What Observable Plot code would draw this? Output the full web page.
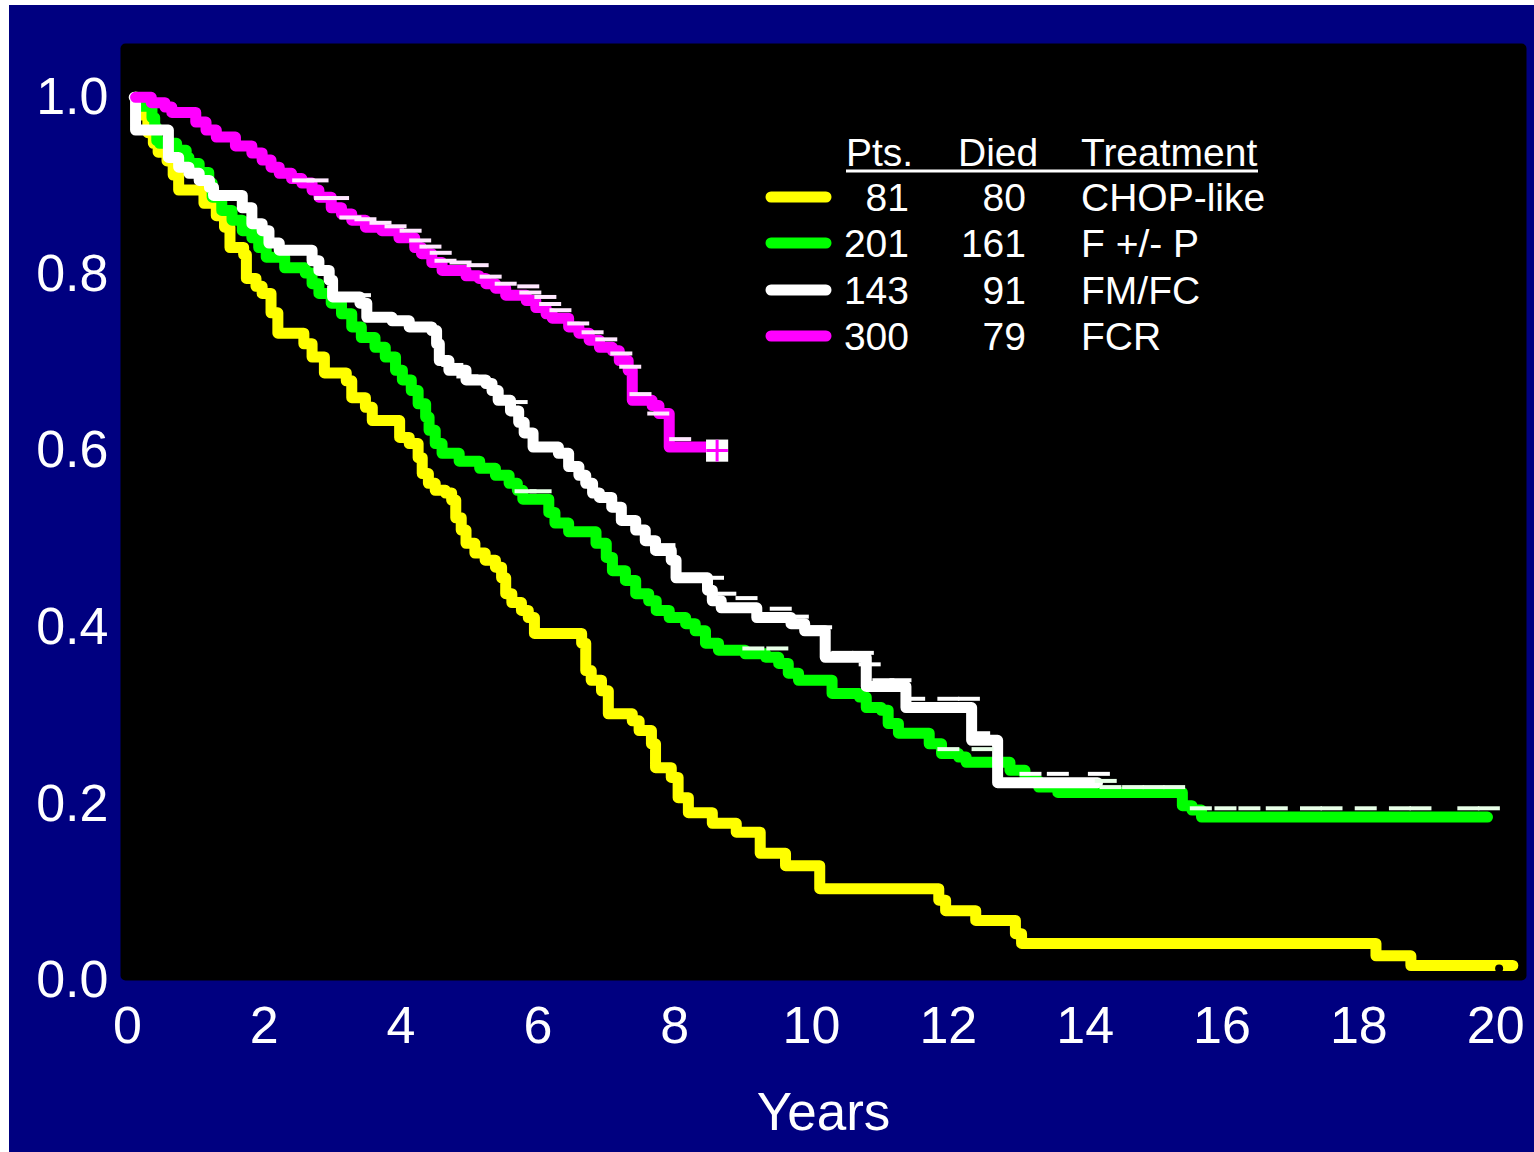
<!DOCTYPE html>
<html>
<head>
<meta charset="utf-8">
<script src="https://cdn.jsdelivr.net/npm/d3@7"></script>
<script src="https://cdn.jsdelivr.net/npm/@observablehq/plot@0.6"></script>
<style>
  html, body { margin: 0; padding: 0; background: #ffffff; }
  #chart { position: absolute; left: 9px; top: 5px; }
</style>
</head>
<body>
<div id="chart"></div>
<script>
// ---- Data ----
const xTicks = [0, 2, 4, 6, 8, 10, 12, 14, 16, 18, 20];
const yTicks = [0, 0.2, 0.4, 0.6, 0.8, 1.0];

const treatments = ["CHOP-like", "F +/- P", "FM/FC", "FCR"];
const patients = [81, 201, 143, 300];
const died = [80, 161, 91, 79];
const colors = ["#ffff00", "#00ff00", "#ffffff", "#ff00ff"];

// CHOP-like
const chopT = [0.12,0.14,0.3,0.38,0.45,0.58,0.67,0.75,1.12,1.3,1.42,1.5,1.7,1.74,1.88,1.97,2.1,2.2,2.58,2.7,2.88,3.2,3.28,3.48,3.58,3.98,4.12,4.25,4.31,4.4,4.5,4.65,4.74,4.8,4.88,4.95,5.08,5.23,5.38,5.47,5.53,5.62,5.76,5.86,5.95,6.64,6.7,6.78,6.93,7.03,7.38,7.48,7.66,7.72,7.95,8.05,8.2,8.55,8.9,9.25,9.62,10.12,11.86,11.96,12.4,12.98,13.07,18.25,18.76,20.25];
const chopS = [1.0,0.98,0.96,0.948,0.938,0.928,0.912,0.895,0.88,0.866,0.853,0.83,0.822,0.795,0.786,0.778,0.756,0.733,0.721,0.706,0.688,0.679,0.66,0.649,0.634,0.615,0.608,0.592,0.574,0.563,0.555,0.552,0.544,0.524,0.51,0.495,0.484,0.476,0.468,0.456,0.438,0.428,0.419,0.411,0.393,0.382,0.351,0.34,0.328,0.302,0.294,0.283,0.268,0.241,0.23,0.207,0.19,0.178,0.168,0.144,0.13,0.104,0.091,0.079,0.068,0.053,0.042,0.028,0.017,0.017];

// F +/- P
const fpT = [0.12,0.14,0.36,0.4,0.43,0.47,0.72,0.86,0.9,1.05,1.19,1.24,1.38,1.53,1.68,1.82,1.92,2.03,2.3,2.6,2.7,2.8,2.98,3.13,3.28,3.42,3.62,3.77,3.92,4.02,4.15,4.25,4.36,4.41,4.5,4.6,4.85,5.15,5.38,5.58,5.7,5.78,6.16,6.25,6.45,6.85,7.0,7.09,7.28,7.43,7.62,7.73,7.92,8.16,8.3,8.45,8.64,9.03,9.33,9.52,9.66,9.81,10.3,10.7,10.8,11.02,11.12,11.27,11.72,11.9,12.15,12.26,12.9,13.12,13.32,13.6,15.42,15.56,15.7,19.88];
const fpS = [1.0,0.99,0.977,0.966,0.951,0.948,0.94,0.932,0.925,0.915,0.903,0.887,0.872,0.861,0.849,0.841,0.83,0.819,0.807,0.801,0.789,0.778,0.767,0.755,0.74,0.728,0.717,0.706,0.691,0.68,0.668,0.653,0.638,0.623,0.608,0.597,0.588,0.58,0.572,0.563,0.555,0.545,0.53,0.518,0.508,0.495,0.479,0.464,0.453,0.438,0.43,0.419,0.411,0.404,0.396,0.382,0.374,0.37,0.366,0.359,0.348,0.34,0.325,0.321,0.309,0.306,0.291,0.28,0.268,0.257,0.253,0.247,0.238,0.226,0.219,0.213,0.198,0.193,0.185,0.185];

// FM/FC
const fmT = [0.1,0.12,0.6,0.75,0.9,1.05,1.2,1.26,1.68,1.82,1.97,2.07,2.22,2.7,2.8,2.95,3.0,3.4,3.5,3.87,4.12,4.45,4.52,4.56,4.7,4.95,5.24,5.33,5.42,5.6,5.72,5.8,5.93,6.3,6.45,6.6,6.7,6.8,6.9,7.08,7.22,7.43,7.57,7.72,7.95,8.02,8.48,8.55,8.68,9.2,9.7,9.9,10.2,10.8,11.38,12.34,12.72,14.18];
const fmS = [1.0,0.963,0.932,0.921,0.914,0.906,0.898,0.889,0.875,0.857,0.849,0.835,0.827,0.815,0.804,0.793,0.774,0.767,0.751,0.747,0.74,0.736,0.721,0.702,0.691,0.68,0.676,0.668,0.657,0.645,0.632,0.62,0.604,0.597,0.582,0.572,0.563,0.552,0.547,0.536,0.521,0.51,0.498,0.487,0.476,0.456,0.442,0.43,0.422,0.411,0.404,0.396,0.366,0.333,0.309,0.272,0.224,0.224];

// FCR
const fcrT = [0.12,0.35,0.55,0.65,1.0,1.15,1.3,1.58,1.82,1.97,2.1,2.22,2.4,2.55,2.7,2.8,2.98,3.13,3.28,3.48,3.72,3.97,4.2,4.3,4.45,4.6,4.95,5.14,5.24,5.38,5.53,5.83,5.97,6.12,6.21,6.45,6.6,6.75,6.9,7.09,7.19,7.32,7.38,7.67,7.77,7.92,8.55];
const fcrS = [1.0,0.994,0.989,0.983,0.972,0.963,0.955,0.945,0.937,0.929,0.921,0.914,0.908,0.903,0.895,0.887,0.875,0.868,0.861,0.853,0.849,0.841,0.83,0.823,0.813,0.804,0.798,0.795,0.789,0.784,0.776,0.77,0.762,0.755,0.75,0.74,0.733,0.725,0.717,0.713,0.702,0.691,0.657,0.651,0.642,0.604,0.6];

// censored observations (tick marks)
const fcrCensT = [2.57,2.78,2.89,3.08,3.26,3.48,3.70,3.92,4.14,4.28,4.43,4.58,4.65,4.87,5.12,5.31,5.53,5.86,5.89,6.11,6.18,6.33,6.59,6.80,7.00,7.22,7.35,7.50,7.76,8.08];
const fcrCensS = [0.906,0.906,0.886,0.886,0.864,0.862,0.858,0.854,0.849,0.838,0.831,0.824,0.815,0.813,0.810,0.797,0.789,0.786,0.779,0.774,0.766,0.759,0.744,0.734,0.726,0.710,0.695,0.664,0.642,0.613];
const fpCensT = [5.82,6.04,9.15,9.5,12.0,12.5,14.3,14.37,14.7,15.0,15.3,15.69,16.05,16.4,16.8,17.3,17.6,18.1,18.6,18.9,19.6,19.9];
const fpCensS = [0.554,0.554,0.376,0.376,0.262,0.262,0.226,0.219,0.219,0.219,0.219,0.195,0.195,0.195,0.195,0.195,0.195,0.195,0.195,0.195,0.195,0.195];
const fmCensT = [3.2,3.4,4.75,4.97,5.69,7.85,8.56,8.74,9.05,9.55,9.8,10.14,10.45,10.75,10.85,11.05,11.3,11.5,12.0,12.3,12.45,13.2,13.6,14.2];
const fmCensS = [0.776,0.776,0.697,0.684,0.655,0.493,0.456,0.438,0.433,0.421,0.412,0.400,0.371,0.371,0.358,0.340,0.340,0.319,0.319,0.319,0.280,0.234,0.234,0.234];
const fcrLastT = [8.62];
const fcrLastS = [0.6];

// ---- build tables ----
const curveT = [chopT, fpT, fmT, fcrT];
const curveS = [chopS, fpS, fmS, fcrS];
const curves = treatments.flatMap((name, i) => curveT[i].map((t, j) => ({name, t, s: curveS[i][j]})));
const censorSets = [
  {name: "F +/- P", T: fpCensT, S: fpCensS, fill: "#e8ffe8"},
  {name: "FM/FC", T: fmCensT, S: fmCensS, fill: "#ffffff"},
  {name: "FCR", T: fcrCensT, S: fcrCensS, fill: "#ffe8ff"}
];
const censors = censorSets.flatMap(c => c.T.map((t, j) => ({name: c.name, t, s: c.S[j], fill: c.fill})));
const fcrLast = fcrLastT.map((t, j) => ({t, s: fcrLastS[j]}));

const dash = { draw(ctx) { ctx.rect(-11, -2, 22, 4); } };

const W = 1525, H = 1147;
const chart = Plot.plot({
  width: W, height: H,
  marginLeft: 111, marginRight: 8, marginTop: 38, marginBottom: 172,
  style: {background: "#000080", color: "white", fontFamily: "'Liberation Sans', Arial, sans-serif", fontSize: "52px"},
  x: {domain: [-0.1, 20.45]},
  y: {domain: [0, 1.061]},
  color: {domain: treatments, range: colors},
  marks: [
    Plot.frame({fill: "black", stroke: "none", rx: 5}),
    Plot.axisX({ticks: xTicks, tickSize: 0, tickPadding: 26, fontSize: 52, label: null, tickFormat: d => String(d), fill: "white"}),
    Plot.axisY({ticks: yTicks, tickSize: 0, tickPadding: 12, fontSize: 52, label: null, tickFormat: d => d.toFixed(1), fill: "white"}),
    Plot.line(curves, {x: "t", y: "s", z: "name", stroke: d => d.name, curve: "step-after", strokeWidth: 11, strokeLinejoin: "round", strokeLinecap: "round"}),
    Plot.dot(censors, {x: "t", y: "s", symbol: dash, fill: "fill", stroke: "none"}),
    Plot.dot(fcrLast, {x: "t", y: "s", symbol: "square", r: 12.5, fill: "white", stroke: "none"}),
    Plot.dot(fcrLast, {x: "t", y: "s", symbol: "plus", r: 7, stroke: "#ff00ff", strokeWidth: 3}),
    Plot.dot([{t: 20.05, s: 0.017}], {x: "t", y: "s", r: 4, fill: "black", stroke: "none", dy: 3}),
    Plot.text(["Years"], {frameAnchor: "bottom", dy: 133, fontSize: 53, fill: "white", lineAnchor: "middle"})
  ]
});
document.getElementById("chart").appendChild(chart);

// ---- legend (inside the plot panel) ----
const svg = d3.select(chart);
const g = svg.append("g").attr("font-family", "'Liberation Sans', Arial, sans-serif").attr("font-size", 39).attr("fill", "white").attr("text-anchor", "start");
const hdrY = 161;
g.append("text").attr("x", 837).attr("y", hdrY).attr("text-anchor", "start").text("Pts.");
g.append("text").attr("x", 949).attr("y", hdrY).attr("text-anchor", "start").text("Died");
g.append("text").attr("x", 1072).attr("y", hdrY).attr("text-anchor", "start").text("Treatment");
g.append("line").attr("x1", 837).attr("x2", 1249).attr("y1", 166).attr("y2", 166).attr("stroke", "white").attr("stroke-width", 3);
const rowMid = [192, 238, 285, 331];
treatments.forEach((name, i) => {
  g.append("line").attr("x1", 762).attr("x2", 817).attr("y1", rowMid[i]).attr("y2", rowMid[i])
    .attr("stroke", colors[i]).attr("stroke-width", 11).attr("stroke-linecap", "round");
  const base = rowMid[i] + 14;
  g.append("text").attr("x", 900).attr("y", base).attr("text-anchor", "end").text(patients[i]);
  g.append("text").attr("x", 1017).attr("y", base).attr("text-anchor", "end").text(died[i]);
  g.append("text").attr("x", 1072).attr("y", base).attr("text-anchor", "start").text(name);
});
</script>
</body>
</html>
